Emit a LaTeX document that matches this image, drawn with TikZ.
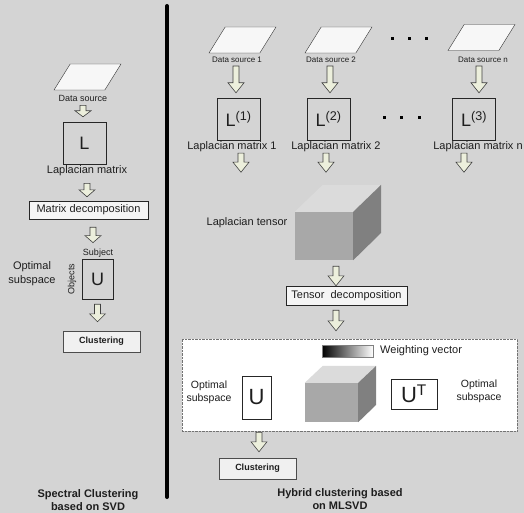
\documentclass[tikz,border=0pt]{standalone}
\usepackage{fontspec}
\setmainfont{Liberation Sans}
\usetikzlibrary{shapes.geometric,calc}

\definecolor{fond}{RGB}{212,212,212}
\definecolor{flechefill}{RGB}{236,239,220}
\definecolor{texte}{RGB}{30,30,30}
\definecolor{faceavant}{RGB}{168,168,168}
\definecolor{facehaut}{RGB}{219,219,219}
\definecolor{facedroite}{RGB}{128,128,128}

% fleche creuse vers le bas : depart, arrivee, longueur de la pointe
\newcommand{\fleche}[3]{%
  \draw[blockarrow] let \p1=#1, \p2=#2 in
    ({\x1-3pt},\y1) -- ({\x1+3pt},\y1) -- ({\x1+3pt},{\y2+#3}) -- ({\x1+8pt},{\y2+#3})
    -- (\x1,\y2) -- ({\x1-8pt},{\y2+#3}) -- ({\x1-3pt},{\y2+#3}) -- cycle;}

\begin{document}
\begin{tikzpicture}[x=1pt, y=-1pt,
    txt/.style={text=texte, inner sep=0pt, font=\fontsize{11}{14}\selectfont},
    petit/.style={txt, font=\fontsize{8}{10}\selectfont},
    source/.style={trapezium, trapezium left angle=65, trapezium right angle=115,
      trapezium stretches=true, minimum width=67pt, minimum height=26pt,
      draw=black!80, fill=gray!6, inner sep=2pt},
    matrice/.style={draw=black!85, minimum width=43pt, minimum height=42pt,
      inner sep=0pt, text=texte, font=\fontsize{18}{20}\selectfont},
    etape/.style={draw=black!85, fill=gray!8, minimum height=18pt, inner sep=0pt,
      text=texte, font=\fontsize{11}{13}\selectfont},
    cluster/.style={draw=black!70, fill=gray!12, minimum width=77pt, minimum height=21pt,
      inner sep=0pt, text=texte, font=\bfseries\fontsize{9}{11}\selectfont},
    face/.style={fill=faceavant, inner sep=0pt},
    blockarrow/.style={draw=black!75, fill=flechefill, line width=0.6pt},
    titre/.style={txt, align=center, font=\bfseries\fontsize{11}{12.5}\selectfont}]

    \useasboundingbox (0,0) rectangle (524,513);
    % Fond
    \fill[fond] (0,0) rectangle (524,513);

    % Separation
    \draw[line width=4pt, line cap=round] (167,6) -- (167,497);

    % PANNEAU GAUCHE - SVD
    \node[source] (ds) at (87.5,77) {};
    \node[txt, font=\fontsize{9}{11}\selectfont] (dsl) at (83,98) {Data source};
    \node[matrice] (L) at (84.5,143) {L};
    \node[txt] (lm) at (87,171) {Laplacian matrix};
    \node[etape, minimum width=119pt] (md) at (88.5,210) {Matrix decomposition};
    \node[txt, font=\fontsize{9}{11}\selectfont] (subj) at (98,253) {Subject};
    \node[matrice, minimum width=31pt, minimum height=40pt] (U) at (97.5,279) {U};
    \node[txt, font=\fontsize{9}{11}\selectfont, rotate=90] (obj) at (72,279) {Objects};
    \node[txt, align=center] (opt) at (32,274) {Optimal\\subspace};
    \node[cluster] (cl) at (101.5,341.5) {Clustering};
    \node[titre] (titreg) at (88,500) {Spectral Clustering\\based on SVD};

    \fleche{($(dsl.south)+(0,4)$)}{($(L.north)+(0,-5)$)}{6pt}
    \fleche{($(lm.south)+(0,7)$)}{($(md.north)+(0,-4)$)}{7pt}
    \fleche{($(md.south)+(4.5,8)$)}{($(subj.north)+(0,-6)$)}{7pt}
    \fleche{($(U.south)+(0,5)$)}{($(cl.north)+(0,-9)$)}{8pt}

    % PANNEAU DROIT - MLSVD
    % Sources de donnees
    \node[source] (ds1) at (242.5,40) {};
    \node[source] (ds2) at (338.5,40) {};
    \node[source] (dsn) at (481.5,37.5) {};
    \node[petit] (dsl1) at (237,60) {Data source 1};
    \node[petit] (dsl2) at (331,60) {Data source 2};
    \node[petit] (dsln) at (483,60) {Data source n};
    \foreach \x in {392,409,426}
        \fill (\x-1.5,37.5) rectangle ++(3,3);

    % Matrices laplaciennes
    \node[matrice] (l1) at (238.5,119) {L\textsuperscript{(1)}};
    \node[matrice] (l2) at (328.5,119) {L\textsuperscript{(2)}};
    \node[matrice] (ln) at (474,119) {L\textsuperscript{(3)}};
    \node[txt] (lm1) at (232,147) {Laplacian matrix 1};
    \node[txt] (lm2) at (336,147) {Laplacian matrix 2};
    \node[txt] (lmn) at (478,147) {Laplacian matrix n};
    \foreach \x in {384,401,419}
        \fill (\x-1.5,116.5) rectangle ++(3,3);

    \fleche{($(dsl1.south)+(-1,3)$)}{($(l1.north)+(0,-5)$)}{10pt}
    \fleche{($(dsl2.south)+(-1,3)$)}{($(l2.north)+(0,-5)$)}{10pt}
    \fleche{($(dsln.south)+(-4,3)$)}{($(ln.north)+(0,-5)$)}{10pt}
    \fleche{($(l1.south)+(2.5,13)$)}{($(l1.south)+(0,32)$)}{10pt}
    \fleche{($(l2.south)+(-2.5,13)$)}{($(l2.south)+(0,32)$)}{10pt}
    \fleche{($(ln.south)+(-10,13)$)}{($(ln.south)+(0,32)$)}{10pt}

    % Tenseur laplacien
    \node[face, minimum width=58pt, minimum height=48pt] (tenseur) at (324,236) {};
    \fill[facehaut] (tenseur.north west) -- ++(28,-27) -- ++(58,0) -- (tenseur.north east) -- cycle;
    \fill[facedroite] (tenseur.north east) -- ++(28,-27) -- ++(0,48) -- (tenseur.south east) -- cycle;
    \node[txt] (lt) at (247,223) {Laplacian tensor};

    % Decomposition
    \node[etape, minimum width=121pt, minimum height=19pt] (td) at (346.5,295.5) {Tensor\ \ decomposition};
    \fleche{($(tenseur.south)+(12,6)$)}{(td.north)}{10pt}

    % Resultat de la decomposition
    \node[draw=black!55, densely dotted, fill=white, minimum width=335pt, minimum height=92pt,
        inner sep=0pt] (resultat) at (349.5,385) {};
    \fleche{($(td.south)+(-10.5,5)$)}{($(resultat.north)+(0,-8)$)}{10pt}

    \node[draw=black!50, left color=black, right color=white, minimum width=51pt,
        minimum height=12pt, inner sep=0pt] (wv) at (347.5,351) {};
    \node[txt, anchor=west] (wvl) at (380,351) {Weighting vector};
    \node[txt, align=center, font=\fontsize{10.5}{13}\selectfont] (opt2) at (209,392) {Optimal\\subspace};
    \node[matrice, fill=white, minimum width=29pt, minimum height=43pt,
        font=\fontsize{22}{24}\selectfont] (U2) at (256.5,397.5) {U};
    \node[face, minimum width=53pt, minimum height=39pt] (noyau) at (331.5,402.5) {};
    \fill[facehaut] (noyau.north west) -- ++(18,-17) -- ++(53,0) -- (noyau.north east) -- cycle;
    \fill[facedroite] (noyau.north east) -- ++(18,-17) -- ++(0,39) -- (noyau.south east) -- cycle;
    \node[matrice, fill=white, minimum width=46pt, minimum height=30pt,
        font=\fontsize{22}{24}\selectfont] (UT) at (414,394) {U\textsuperscript{T}};
    \node[txt, align=center, font=\fontsize{10.5}{13}\selectfont] (opt3) at (479,391) {Optimal\\subspace};

    % Clustering
    \node[cluster] (cl2) at (257.5,468.5) {Clustering};
    \fleche{($(resultat.south)+(-90.5,1)$)}{($(cl2.north)+(0,-6)$)}{10pt}
    \node[titre] (titred) at (340,499) {Hybrid clustering based\\on MLSVD};
\end{tikzpicture}
\end{document}
